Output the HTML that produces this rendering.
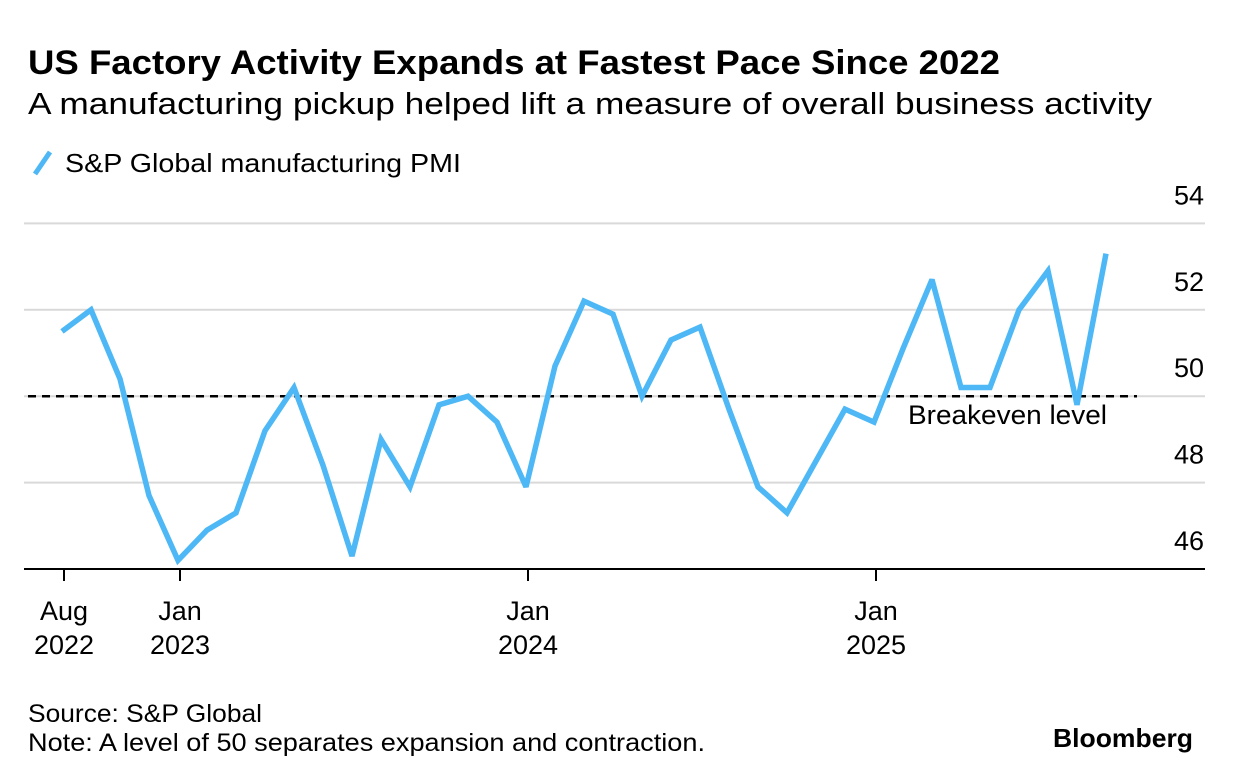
<!DOCTYPE html>
<html><head><meta charset="utf-8"><style>
body{margin:0;background:#fff;font-family:"Liberation Sans",Arial,sans-serif;}
svg{display:block}
</style></head><body>
<svg width="1233" height="782" xmlns="http://www.w3.org/2000/svg" font-family="Liberation Sans, Arial, sans-serif">
<text x="28" y="74" font-size="34" font-weight="bold" fill="#000" textLength="972" lengthAdjust="spacingAndGlyphs">US Factory Activity Expands at Fastest Pace Since 2022</text>
<text x="28" y="114" font-size="31" fill="#000" textLength="1124" lengthAdjust="spacingAndGlyphs">A manufacturing pickup helped lift a measure of overall business activity</text>
<g>
<line x1="35" y1="174" x2="50" y2="152" stroke="#4db8f5" stroke-width="5"/>
<text x="65" y="172" font-size="26" fill="#000" textLength="396" lengthAdjust="spacingAndGlyphs">S&amp;P Global manufacturing PMI</text>
</g>
<g id="grid"></g>
<g id="xaxis"></g>
<g id="line"></g>
<text x="28" y="722" font-size="25" fill="#000" textLength="234" lengthAdjust="spacingAndGlyphs">Source: S&amp;P Global</text>
<text x="28" y="751" font-size="25" fill="#000" textLength="677" lengthAdjust="spacingAndGlyphs">Note: A level of 50 separates expansion and contraction.</text>
<text x="1053" y="747" font-size="26" font-weight="bold" fill="#000" textLength="140" lengthAdjust="spacingAndGlyphs">Bloomberg</text>
</svg>
<script>
const values=[51.5,52.0,50.4,47.7,46.2,46.9,47.3,49.2,50.2,48.4,46.3,49.0,47.9,49.8,50.0,49.4,47.9,50.7,52.2,51.9,50.0,51.3,51.6,49.7,47.9,47.3,48.5,49.7,49.4,51.1,52.7,50.2,50.2,52.0,52.9,49.8,53.3];
const yTicks=[46,48,50,52,54];
const xTickIdx=[0,4,16,28];
const xTickLabels=[["Aug","2022"],["Jan","2023"],["Jan","2024"],["Jan","2025"]];
const breakeven=50;
const NS="http://www.w3.org/2000/svg";
const x=i=>62+i*29;
const y=v=>569-(v-46)*43.2;
function mk(tag,attrs,parent){const e=document.createElementNS(NS,tag);for(const k in attrs)e.setAttribute(k,attrs[k]);document.getElementById(parent).appendChild(e);return e;}
yTicks.forEach(t=>{
  if(t!==46){const g=mk('line',{x1:24,x2:1205,y1:y(t),y2:y(t),stroke:'#d9d9d9','stroke-width':2},'grid');
  
  }
  const l=mk('text',{x:1204,y:y(t)-19,'font-size':27,'text-anchor':'end',fill:'#000'},'grid');
  l.textContent=t;
  
  
});
const ax=mk('line',{x1:24,x2:1205,y1:y(46),y2:y(46),stroke:'#000','stroke-width':2},'xaxis');


xTickIdx.forEach((i,k)=>{
  const t=mk('line',{x1:x(i)+2,x2:x(i)+2,y1:y(46),y2:y(46)+12,stroke:'#000','stroke-width':2},'xaxis');
  
  
  xTickLabels[k].forEach((s,j)=>{
    const tx=mk('text',{x:x(i)+2,y:620+j*34,'font-size':27,'text-anchor':'middle',fill:'#000'},'xaxis');
    tx.textContent=s;
    
    
  });
});
const d=mk('line',{x1:28,x2:1137,y1:y(breakeven),y2:y(breakeven),stroke:'#000','stroke-width':2.5,'stroke-dasharray':'8,6'},'line');


const bl=mk('text',{x:908,y:y(breakeven)+28,'font-size':27,fill:'#000',textLength:199,lengthAdjust:'spacingAndGlyphs'},'line');
bl.textContent='Breakeven level';


const p=mk('polyline',{points:values.map((v,i)=>x(i)+','+y(v)).join(' '),fill:'none',stroke:'#4db8f5','stroke-width':5.5,'stroke-linejoin':'miter','stroke-miterlimit':3},'line');


</script>
</body></html>
